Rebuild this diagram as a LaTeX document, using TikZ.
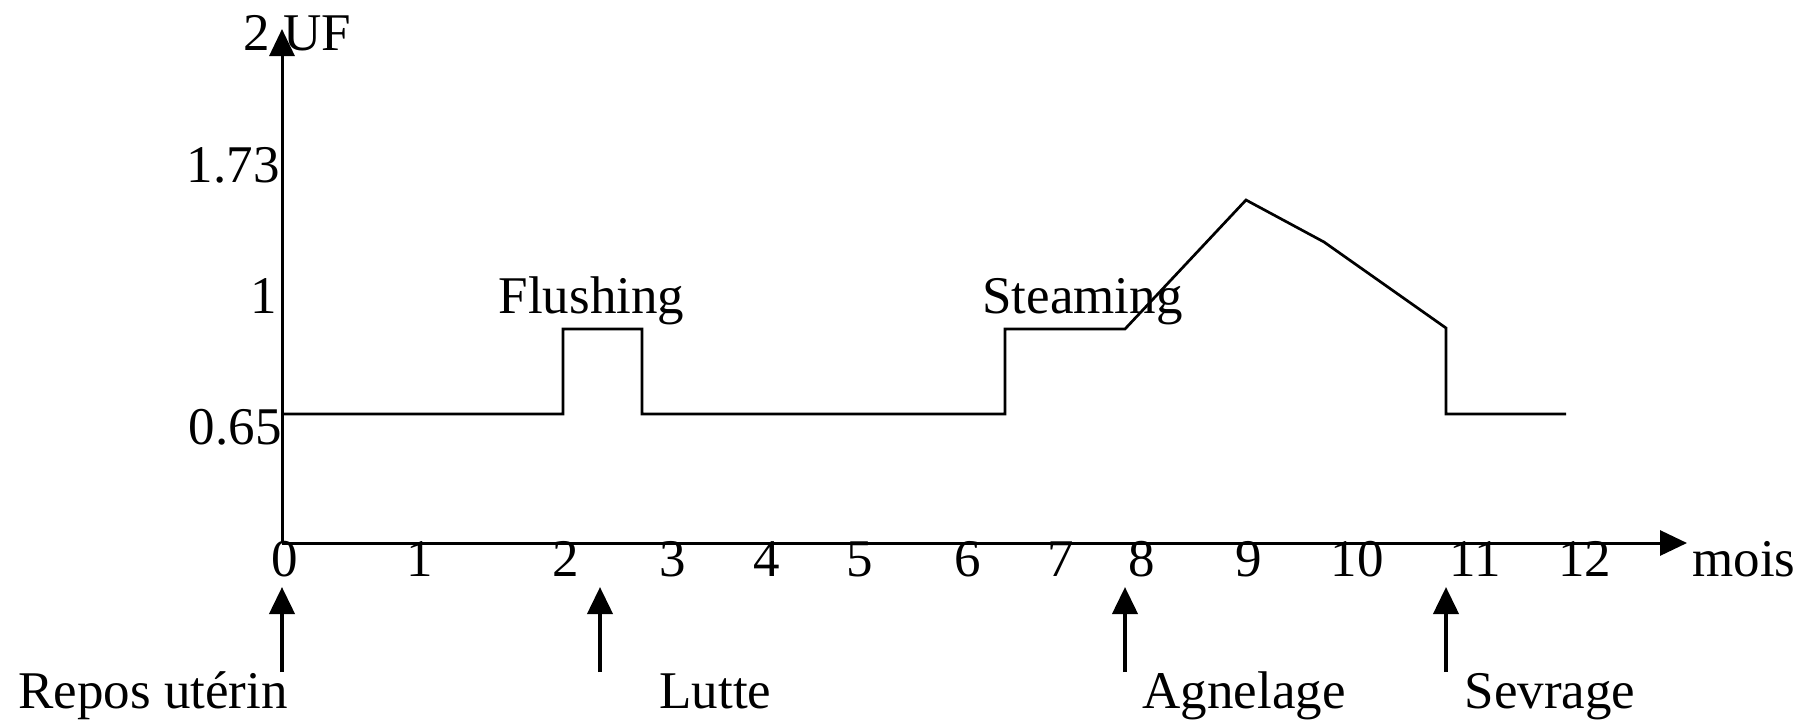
\documentclass[tikz,border=0pt]{standalone}
\usepackage{fontspec}
\setmainfont{Liberation Serif}
\usetikzlibrary{arrows.meta}
\tikzset{
txt/.style={inner sep=0pt, font=\fontsize{26.5}{30}\selectfont},
axe/.style={line width=1.5pt, -{Triangle[length=13.5pt,width=12.5pt]}},
evt/.style={line width=2pt, -{Triangle[length=13.5pt,width=12.5pt]}},
courbe/.style={line width=1.35pt, line join=miter}}

\begin{document}
\begin{tikzpicture}[x=0.5pt,y=-0.5pt]

                \useasboundingbox (0,0) rectangle (1801,719);

                \coordinate (O) at (282,543);
                \coordinate (Y) at (282,29);
                \coordinate (X) at (1687,543);
                \draw[axe] (O) -- (Y);
                \draw[axe] (O) -- (X);

                \node[txt, anchor=base west] (uf) at (243,50) {2 UF};
                \node[txt, anchor=base east] (y173) at (280,182) {1.73};
                \node[txt, anchor=base east] (y1) at (277,313) {1};
                \node[txt, anchor=base east] (y065) at (282,444) {0.65};
                \node[txt, anchor=base west] (mois) at (1692,576) {mois};

                \node[txt, anchor=base] (m0) at (284.5,576) {0};
                \node[txt, anchor=base] (m1) at (420,576) {1};
                \node[txt, anchor=base] (m2) at (566,576) {2};
                \node[txt, anchor=base] (m3) at (673,576) {3};
                \node[txt, anchor=base] (m4) at (767,576) {4};
                \node[txt, anchor=base] (m5) at (860,576) {5};
                \node[txt, anchor=base] (m6) at (968,576) {6};
                \node[txt, anchor=base] (m7) at (1061,576) {7};
                \node[txt, anchor=base] (m8) at (1141.5,576) {8};
                \node[txt, anchor=base] (m9) at (1248.6,576) {9};
                \node[txt, anchor=base] (m10) at (1357,576) {10};
                \node[txt, anchor=base] (m11) at (1475.5,576) {11};
                \node[txt, anchor=base] (m12) at (1584.6,576) {12};

                \coordinate (A) at (282,414);
                \coordinate (B) at (563,414);
                \coordinate (C) at (563,329);
                \coordinate (D) at (642,329);
                \coordinate (E) at (642,414);
                \coordinate (F) at (1005,414);
                \coordinate (G) at (1005,329);
                \coordinate (H) at (1125,329);
                \coordinate (I) at (1246,200);
                \coordinate (J) at (1324,242);
                \coordinate (K) at (1446,328);
                \coordinate (L) at (1446,414);
                \coordinate (M) at (1566,414);
                \draw[courbe] (A) -- (B) -- (C) -- (D) -- (E) -- (F) -- (G) -- (H) -- (I) -- (J) -- (K) -- (L) -- (M);

                \node[txt, anchor=base] (flush) at (591.5,313) {Flushing};
                \node[txt, anchor=base] (steam) at (1082.5,313) {Steaming};

                \coordinate (r1) at (282,672);
                \coordinate (r2) at (282,587);
                \coordinate (l1) at (600,672);
                \coordinate (l2) at (600,587);
                \coordinate (a1) at (1125,672);
                \coordinate (a2) at (1125,587);
                \coordinate (s1) at (1446,672);
                \coordinate (s2) at (1446,587);
                \draw[evt] (r1) -- (r2);
                \draw[evt] (l1) -- (l2);
                \draw[evt] (a1) -- (a2);
                \draw[evt] (s1) -- (s2);

                \node[txt, anchor=base] (repos) at (153,708) {Repos utérin};
                \node[txt, anchor=base] (lutte) at (715.5,708) {Lutte};
                \node[txt, anchor=base] (agnel) at (1244,708) {Agnelage};
                \node[txt, anchor=base] (sevr) at (1550,708) {Sevrage};

            \end{tikzpicture}
\end{document}
